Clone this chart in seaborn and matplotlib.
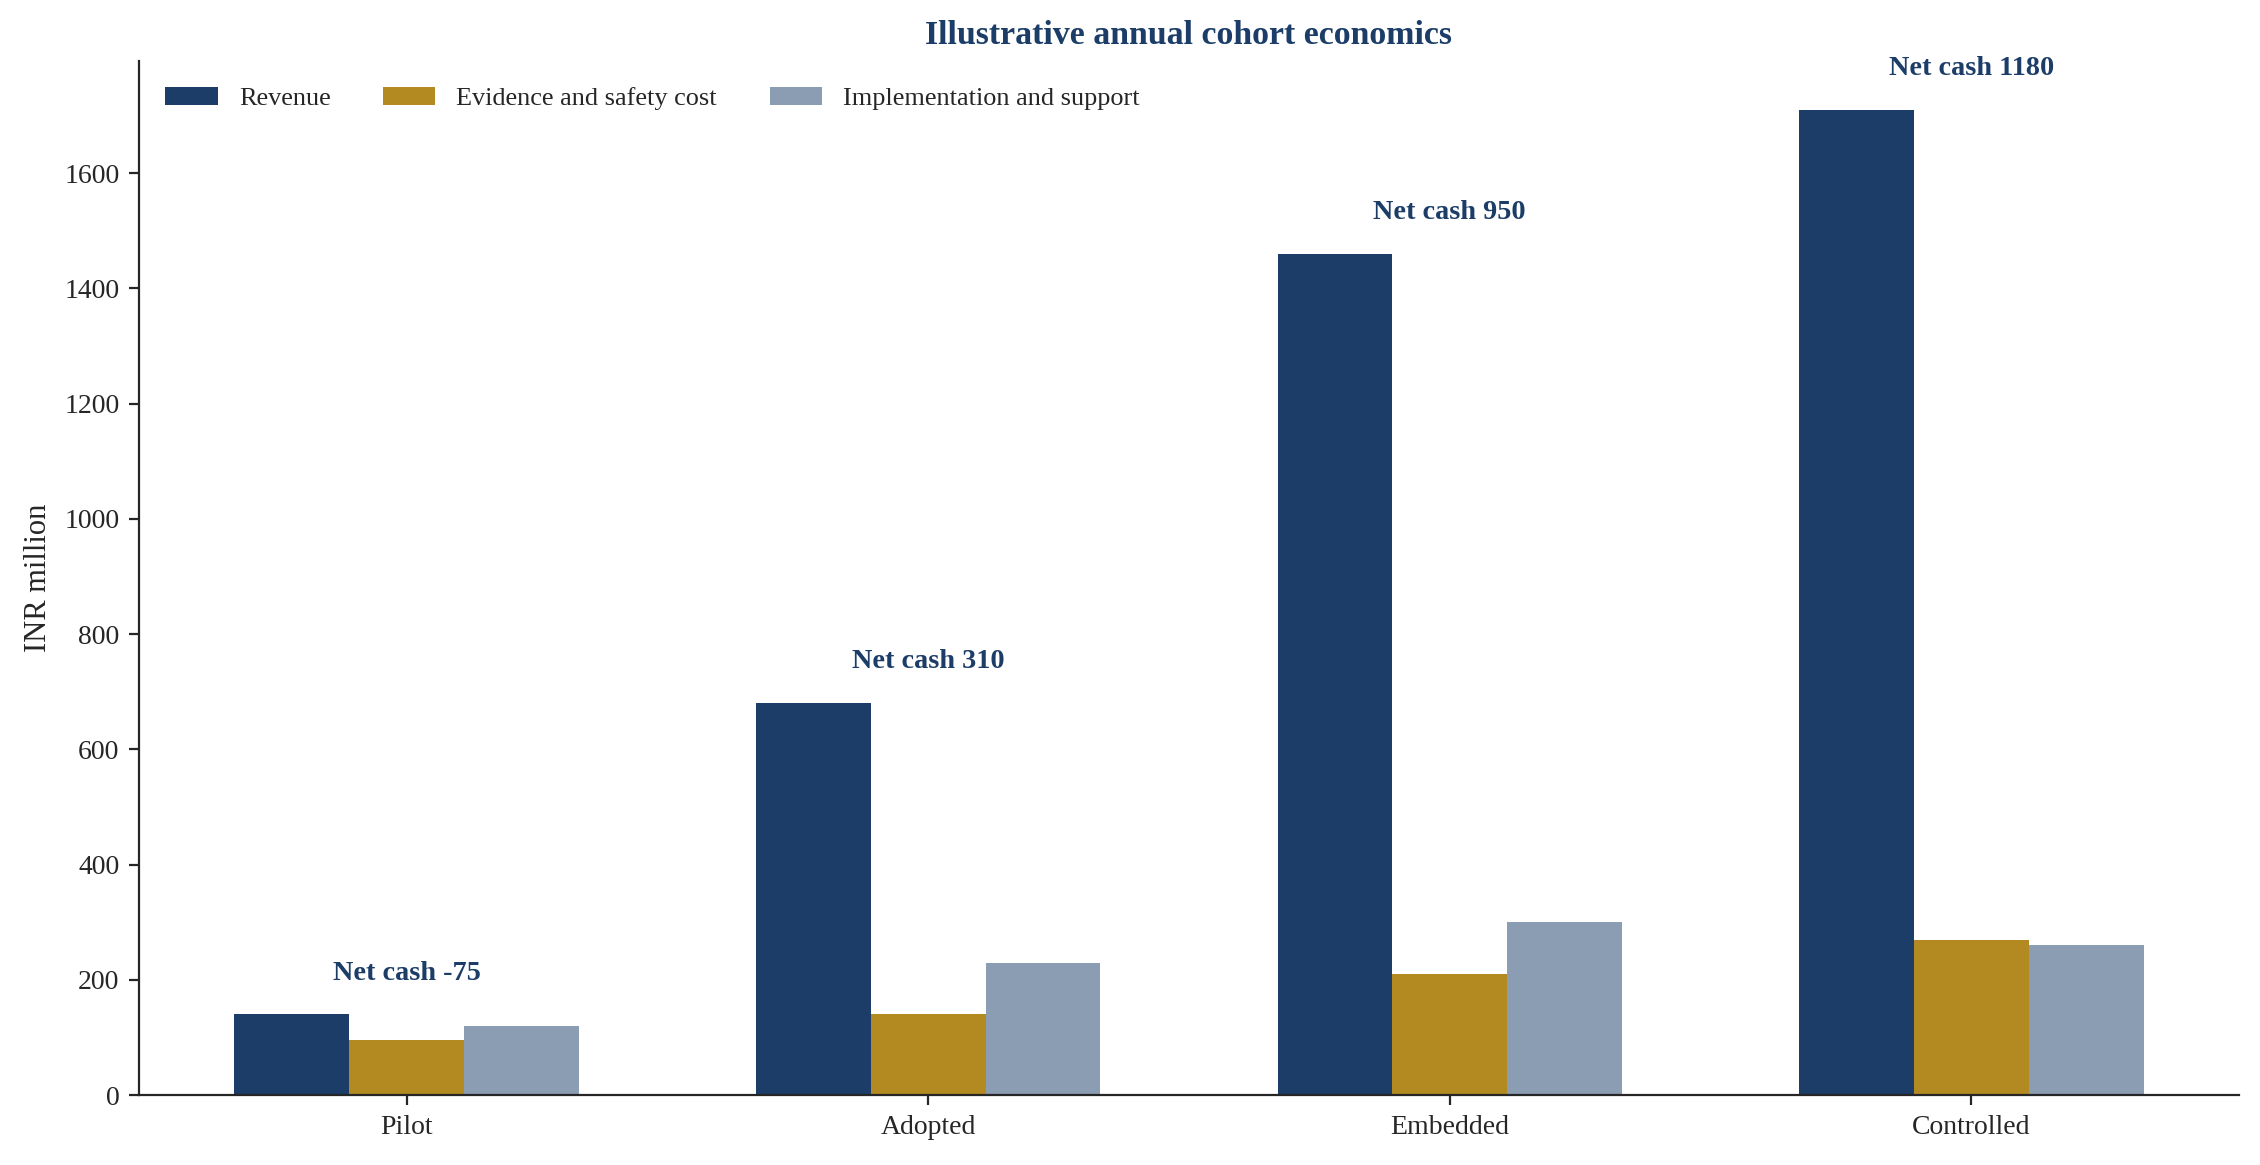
import numpy as np
import pandas as pd
import matplotlib
matplotlib.use("Agg")
import matplotlib.pyplot as plt
import seaborn as sns

# dados (INR million)
stages = ["Pilot", "Adopted", "Embedded", "Controlled"]
series_names = ["Revenue", "Evidence and safety cost", "Implementation and support"]
revenue = [140, 680, 1460, 1710]
evidence_cost = [95, 140, 210, 270]
implementation = [120, 230, 300, 260]

navy = "#1b3d68"
palette = [navy, "#b38922", "#8a9db2"]

sns.set_style("ticks")
plt.rcParams["font.family"] = ["Liberation Serif", "DejaVu Serif"]

df = pd.DataFrame({
    "stage": stages * 3,
    "series": np.repeat(series_names, len(stages)),
    "value": revenue + evidence_cost + implementation,
})

fig, ax = plt.subplots(figsize=(11.3, 5.825), dpi=200)
fig.subplots_adjust(left=0.0615, right=0.9907, bottom=0.060, top=0.948)

sns.barplot(data=df, x="stage", y="value", hue="series", order=stages,
            hue_order=series_names, palette=palette, saturation=1,
            width=0.66, linewidth=0, errorbar=None, ax=ax)

# caixa líquido acima de cada grupo
net_cash = [r - e - i for r, e, i in zip(revenue, evidence_cost, implementation)]
for k, stage in enumerate(stages):
    top = max(revenue[k], evidence_cost[k], implementation[k])
    ax.text(k, top + 50, f"Net cash {net_cash[k]}", ha="center", va="bottom",
            fontsize=10.2, fontweight="bold", color=navy)

ax.set_ylim(0, max(revenue) * 1.05)
ax.autoscale(enable=True, axis="x")
ax.margins(x=0.05)

ax.set_title("Illustrative annual cohort economics", fontsize=12.2,
             fontweight="bold", color=navy)
ax.set_xlabel("")
ax.set_ylabel("INR million", fontsize=11)
ax.tick_params(axis="both", labelsize=10)

handles, labels = ax.get_legend_handles_labels()
ax.legend(handles, labels, loc="upper left", ncol=3, frameon=False,
          fontsize=9.45, borderaxespad=0.6)
sns.despine(ax=ax)

fig.savefig("out.png", dpi=200)
